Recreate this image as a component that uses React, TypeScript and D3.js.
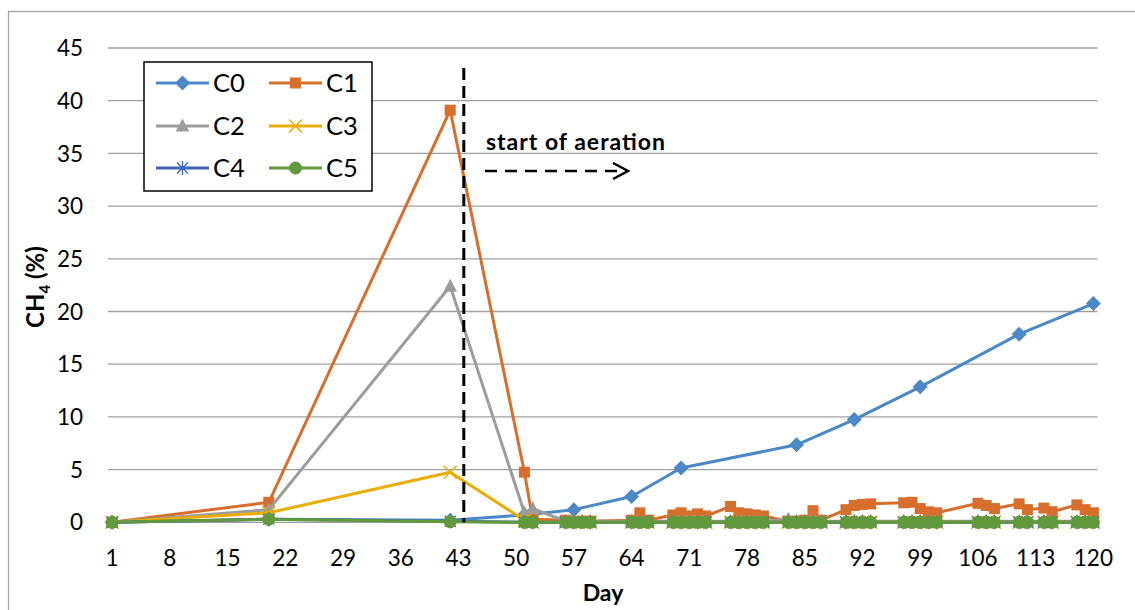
import React from "react";
import * as d3 from "d3";

const W = 1135;
const H = 610;
const FONT = "Lato, 'Open Sans', 'DejaVu Sans', sans-serif";

// C0 (control) was sampled roughly weekly
const c0Days = [1, 20, 42, 51, 57, 64, 70, 84, 91, 99, 111, 120];
const c0Values = [0, 0.3, 0.2, 0.7, 1.2, 2.45, 5.15, 7.35, 9.75, 12.85, 17.85, 20.75];

// C1–C5 share a denser sampling schedule once aeration starts
const sampleDays = [
  1, 20, 42, 51, 52, 56, 57, 58, 59, 64, 65, 66, 69, 70, 71, 72, 73, 76, 77, 78, 79, 80,
  83, 84, 85, 86, 87, 90, 91, 92, 93, 97, 98, 99, 100, 101, 106, 107, 108, 111, 112, 114,
  115, 118, 119, 120,
];
const c1Values = [
  0, 1.9, 39.1, 4.75, 0.3, 0.2, 0.1, 0.1, 0.1, 0.2, 0.9, 0.2, 0.7, 0.9, 0.6, 0.8, 0.6, 1.5, 0.9,
  0.8, 0.7, 0.6, 0.1, 0.1, 0.2, 1.1, 0.2, 1.2, 1.6, 1.7, 1.75, 1.85, 1.9, 1.3, 1.0, 0.9, 1.8, 1.6,
  1.3, 1.75, 1.2, 1.35, 1.0, 1.65, 1.2, 0.9,
];
const c2Values = [
  0, 1.2, 22.4, 0.9, 1.3, 0.1, 0.1, 0.1, 0.1, 0.1, 0.1, 0.1, 0.1, 0.1, 0.1, 0.1, 0.1, 0.1, 0.1,
  0.1, 0.1, 0.1, 0.3, 0.1, 0.1, 0.1, 0.1, 0.1, 0.1, 0.1, 0.1, 0.1, 0.1, 0.1, 0.1, 0.1, 0.1, 0.1,
  0.1, 0.1, 0.1, 0.1, 0.1, 0.1, 0.1, 0.1,
];
const c3Values = [
  0, 0.9, 4.75, 0.2, 0, 0, 0, 0, 0, 0, 0, 0, 0, 0, 0, 0, 0, 0, 0, 0, 0, 0, 0, 0, 0, 0, 0, 0, 0, 0,
  0, 0, 0, 0, 0, 0, 0, 0, 0, 0, 0, 0, 0, 0, 0, 0,
];
const c4Values = [
  0, 0.3, 0.1, 0, 0, 0, 0, 0, 0, 0, 0, 0, 0, 0, 0, 0, 0, 0, 0, 0, 0, 0, 0, 0, 0, 0, 0, 0, 0, 0,
  0, 0, 0, 0, 0, 0, 0, 0, 0, 0, 0, 0, 0, 0, 0, 0,
];
const c5Values = [
  0, 0.3, 0.05, 0, 0, 0, 0, 0, 0, 0, 0, 0, 0, 0, 0, 0, 0, 0, 0, 0, 0, 0, 0, 0, 0, 0, 0, 0, 0, 0,
  0, 0, 0, 0, 0, 0, 0, 0, 0, 0, 0, 0, 0, 0, 0, 0,
];

const seriesNames = ["C0", "C1", "C2", "C3", "C4", "C5"];
const seriesColors = ["#4a89c6", "#d86e2b", "#9c9c9c", "#e8ad00", "#3e66b3", "#61993d"];
const seriesMarkers = ["diamond", "square", "triangle", "cross", "asterisk", "circle"];

const xTicks = [1, 8, 15, 22, 29, 36, 43, 50, 57, 64, 71, 78, 85, 92, 99, 106, 113, 120];
const yTicks = [0, 5, 10, 15, 20, 25, 30, 35, 40, 45];

const aerationStartDay = 43.65;
const aerationLabel = "start of aeration";

const plot = { left: 108, right: 1097.5, top: 48, bottom: 522.3 };

const x = d3.scaleLinear().domain([0.5, 120.5]).range([plot.left, plot.right]);
const y = d3.scaleLinear().domain([0, 45]).range([plot.bottom, plot.top]);

type Pt = { d: number; v: number };

const series: { name: string; color: string; marker: string; points: Pt[] }[] = [
  { values: c0Values, days: c0Days },
  { values: c1Values, days: sampleDays },
  { values: c2Values, days: sampleDays },
  { values: c3Values, days: sampleDays },
  { values: c4Values, days: sampleDays },
  { values: c5Values, days: sampleDays },
].map((s, i) => ({
  name: seriesNames[i],
  color: seriesColors[i],
  marker: seriesMarkers[i],
  points: s.days.map((d, j) => ({ d, v: s.values[j] })),
}));

const line = d3
  .line<Pt>()
  .x((p) => x(p.d))
  .y((p) => y(p.v));

function Marker({ kind, cx, cy, color }: { kind: string; cx: number; cy: number; color: string }) {
  const t = `translate(${cx},${cy})`;
  switch (kind) {
    case "diamond":
      return <path transform={t} d="M0,-7.5L7.5,0L0,7.5L-7.5,0Z" fill={color} />;
    case "square":
      return <rect x={cx - 5.5} y={cy - 5.5} width={11} height={11} fill={color} />;
    case "triangle":
      return <path transform={t} d="M0,-7.5L6.8,5.5L-6.8,5.5Z" fill={color} />;
    case "cross":
      return (
        <path transform={t} d="M-6.5,-6.5L6.5,6.5M-6.5,6.5L6.5,-6.5" stroke={color} strokeWidth={1.5} fill="none" />
      );
    case "asterisk":
      return (
        <path
          transform={t}
          d="M-5.5,-5.5L5.5,5.5M-5.5,5.5L5.5,-5.5M0,-7L0,7"
          stroke={color}
          strokeWidth={1.3}
          fill="none"
        />
      );
    default:
      return <circle cx={cx} cy={cy} r={6.5} fill={color} />;
  }
}

export default function App() {
  const legendCols = [156, 269];
  const legendRows = [83, 126, 168];

  return (
    <svg
      width={W}
      height={H}
      viewBox={`0 0 ${W} ${H}`}
      style={{ position: "fixed", left: 0, top: 0, background: "#fff" }}
      fontFamily={FONT}
    >
      <rect x={0} y={0} width={W} height={H} fill="#fff" />
      {/* chart frame */}
      <rect x={8.5} y={11.5} width={W + 20} height={H + 20} fill="none" stroke="#a3a3a3" strokeWidth={1.3} />

      {/* horizontal gridlines */}
      {yTicks.map((t) => (
        <line
          key={`g${t}`}
          x1={plot.left}
          x2={plot.right}
          y1={y(t)}
          y2={y(t)}
          stroke="#9f9f9f"
          strokeWidth={1.3}
        />
      ))}

      {/* y tick labels */}
      {yTicks.map((t) => (
        <text key={`yl${t}`} x={83} y={y(t)} dy="0.36em" textAnchor="end" fontSize={22.5} fill="#000">
          {t}
        </text>
      ))}

      {/* x tick labels */}
      {xTicks.map((t) => (
        <text key={`xl${t}`} x={x(t)} y={558} dy="0.36em" textAnchor="middle" fontSize={22.5} fill="#000">
          {t}
        </text>
      ))}

      {/* axis titles */}
      <text x={603} y={593} dy="0.36em" textAnchor="middle" fontSize={23} fontWeight="bold">
        Day
      </text>
      <text transform="translate(35,287) rotate(-90)" dy="0.36em" textAnchor="middle" fontSize={24} fontWeight="bold">
        CH
        <tspan fontSize={15} dy={6}>
          4
        </tspan>
        <tspan dy={-6}> (%)</tspan>
      </text>

      {/* series */}
      {series.map((s) => (
        <g key={s.name}>
          <path d={line(s.points) ?? ""} fill="none" stroke={s.color} strokeWidth={3} strokeLinejoin="round" />
          {s.points.map((p, j) => (
            <Marker key={j} kind={s.marker} cx={x(p.d)} cy={y(p.v)} color={s.color} />
          ))}
        </g>
      ))}

      {/* aeration marker */}
      <line
        x1={x(aerationStartDay)}
        x2={x(aerationStartDay)}
        y1={68}
        y2={plot.bottom}
        stroke="#000"
        strokeWidth={3}
        strokeDasharray="12,6"
      />
      <text x={486} y={150} fontSize={23} fontWeight="bold" fill="#000" textLength={179}>
        {aerationLabel}
      </text>
      <line x1={485} x2={626} y1={171} y2={171} stroke="#000" strokeWidth={2.5} strokeDasharray="12,8" />
      <path d="M613,163L628,171L613,179" fill="none" stroke="#000" strokeWidth={2.5} />

      {/* legend */}
      <rect x={144} y={62} width={228} height={129} fill="#fff" stroke="#000" strokeWidth={1.5} />
      {series.map((s, i) => {
        const lx = legendCols[i % 2];
        const ly = legendRows[Math.floor(i / 2)];
        return (
          <g key={`lg${s.name}`}>
            <line x1={lx} x2={lx + 53} y1={ly} y2={ly} stroke={s.color} strokeWidth={3} />
            <Marker kind={s.marker} cx={lx + 26.5} cy={ly} color={s.color} />
            <text x={lx + 57} y={ly} dy="0.36em" fontSize={25.5} fill="#000">
              {s.name}
            </text>
          </g>
        );
      })}
    </svg>
  );
}
